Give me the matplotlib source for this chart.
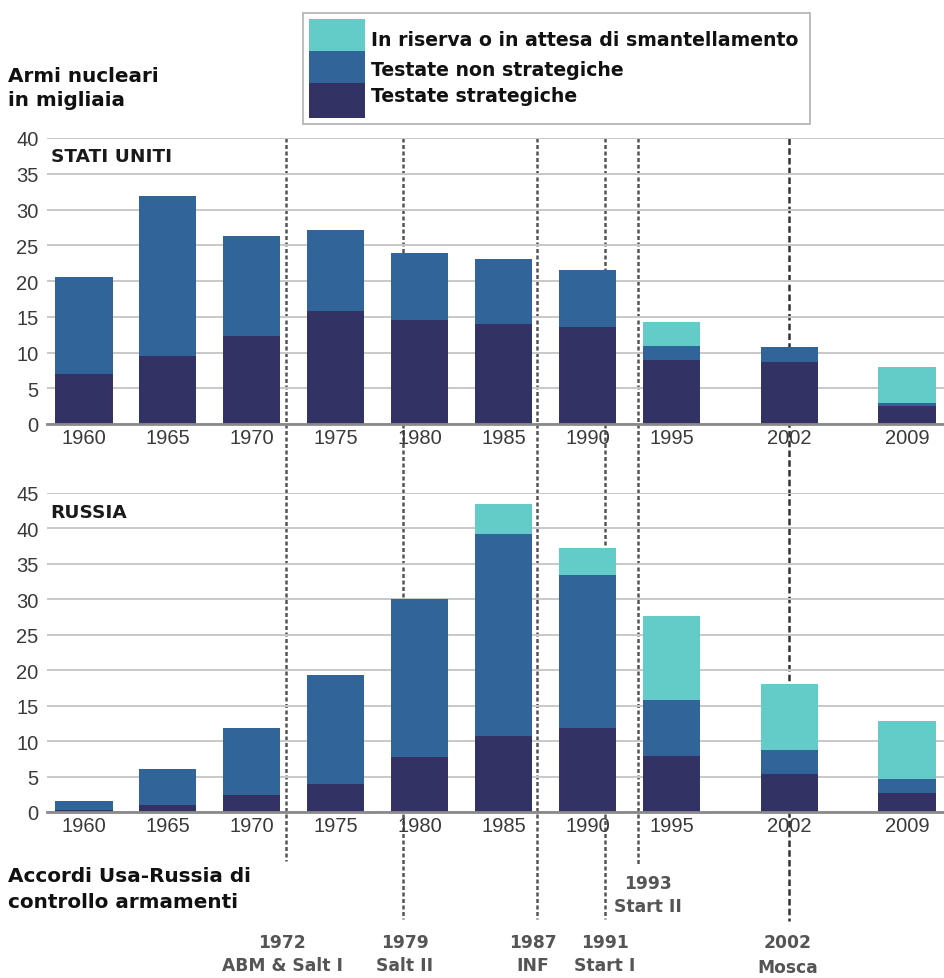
import matplotlib
matplotlib.use("Agg")
import matplotlib.pyplot as plt
from matplotlib.lines import Line2D
from matplotlib.patches import Rectangle
from matplotlib.transforms import blended_transform_factory

plt.rcParams['font.family'] = ['Liberation Sans', 'DejaVu Sans']
BOLD_FAMILY = ['DejaVu Sans']

# ---------------- data ----------------
years = [1960, 1965, 1970, 1975, 1980, 1985, 1990, 1995, 2002, 2009]
year_labels = ["1960", "1965", "1970", "1975", "1980", "1985", "1990", "1995", "2002", "2009"]

us_strategic = [7.0, 9.5, 12.3, 15.8, 14.6, 14.0, 13.5, 9.0, 8.7, 2.5]
us_nonstrategic = [13.5, 22.4, 14.0, 11.3, 9.3, 9.1, 8.0, 1.9, 2.0, 0.5]
us_reserve = [0.0, 0.0, 0.0, 0.0, 0.0, 0.0, 0.0, 3.4, 0.0, 5.0]

ru_strategic = [0.3, 1.0, 2.4, 3.9, 7.8, 10.7, 11.8, 7.9, 5.3, 2.7]
ru_nonstrategic = [1.3, 5.1, 9.4, 15.4, 22.3, 28.5, 21.7, 7.9, 3.4, 2.0]
ru_reserve = [0.0, 0.0, 0.0, 0.0, 0.0, 4.2, 3.7, 11.8, 9.3, 8.1]

us_yticks = [0, 5, 10, 15, 20, 25, 30, 35, 40]
ru_yticks = [0, 5, 10, 15, 20, 25, 30, 35, 40, 45]

treaty_years = [1972, 1979, 1987, 1991, 1993, 2002]
treaty_year_labels = ["1972", "1979", "1987", "1991", "1993", "2002"]
treaty_names = ["ABM & Salt I", "Salt II", "INF", "Start I", "Start II", "Mosca"]

legend_labels = ["In riserva o in attesa di smantellamento",
                 "Testate non strategiche",
                 "Testate strategiche"]

# ---------------- style ----------------
C_RES = "#63cbc8"
C_NON = "#31659a"
C_STR = "#333264"
GRID = "#c8c8c8"
W, H = 944, 979

fig = plt.figure(figsize=(W / 100, H / 100), dpi=100)
fig.patch.set_facecolor("white")


def fx(px):
    return px / W


def fy(py):
    return 1 - py / H


XMIN, XMAX = 1957.8, 2011.2
BAR_W = 3.4

ax_us = fig.add_axes([fx(47), fy(425), fx(944) - fx(47), fy(139) - fy(425)])
ax_ru = fig.add_axes([fx(47), fy(813), fx(944) - fx(47), fy(494) - fy(813)])


def draw_panel(ax, strat, nonstrat, reserve, yticks, title):
    ax.set_facecolor("none")
    bottom2 = [a + b for a, b in zip(strat, nonstrat)]
    ax.bar(years, strat, width=BAR_W, color=C_STR, zorder=3, linewidth=0)
    ax.bar(years, nonstrat, width=BAR_W, bottom=strat, color=C_NON, zorder=3, linewidth=0)
    ax.bar(years, reserve, width=BAR_W, bottom=bottom2, color=C_RES, zorder=3, linewidth=0)
    ax.set_xlim(XMIN, XMAX)
    ax.set_ylim(0, yticks[-1])
    ax.set_yticks(yticks)
    ax.set_yticklabels([str(t) for t in yticks])
    ax.set_xticks(years)
    ax.set_xticklabels(year_labels)
    ax.tick_params(axis="both", length=0, labelsize=14.5, labelcolor="#3a3a3a")
    ax.tick_params(axis="y", pad=6)
    ax.tick_params(axis="x", pad=3)
    ax.grid(axis="y", color=GRID, linewidth=1.4, zorder=1)
    ax.set_axisbelow(True)
    for s in ["left", "right", "top"]:
        ax.spines[s].set_visible(False)
    ax.spines["bottom"].set_color("#8a8a8a")
    ax.spines["bottom"].set_linewidth(2)
    ax.spines["bottom"].set_zorder(4)
    ax.text(0.004, 0.968, title, transform=ax.transAxes, ha="left", va="top",
            fontsize=13.3, fontweight="bold", color="#1a1a1a", family=BOLD_FAMILY)


draw_panel(ax_us, us_strategic, us_nonstrategic, us_reserve, us_yticks, "STATI UNITI")
draw_panel(ax_ru, ru_strategic, ru_nonstrategic, ru_reserve, ru_yticks, "RUSSIA")

# ---------------- treaty lines (behind the bars) ----------------
trans = blended_transform_factory(ax_us.transData, fig.transFigure)
line_bottoms = [862, 920, 920, 920, 865, 922]
for yr, yb in zip(treaty_years, line_bottoms):
    ls = (0, (2.6, 1.3)) if yr == 2002 else (0, (1.6, 1.0))
    col = "#333333" if yr == 2002 else "#555555"
    ln = Line2D([yr, yr], [fy(139), fy(yb)], transform=trans, color=col,
                linewidth=1.8, linestyle=ls, zorder=-1)
    fig.add_artist(ln)

# treaty labels
label_pos = {1972: (282, 943, 966), 1979: (405, 943, 966), 1987: (533, 943, 966),
             1991: (605, 943, 966), 1993: (648, 884, 907), 2002: (788, 943, 968)}
for yr, ylab, name in zip(treaty_years, treaty_year_labels, treaty_names):
    x, y1, y2 = label_pos[yr]
    fig.text(fx(x), fy(y1), ylab, ha="center", va="center", fontsize=12.3,
             fontweight="bold", color="#555555", family=BOLD_FAMILY)
    fig.text(fx(x), fy(y2), name, ha="center", va="center", fontsize=12.3,
             fontweight="bold", color="#555555", family=BOLD_FAMILY)

# ---------------- annotations ----------------
for txt, y in [("Armi nucleari", 76), ("in migliaia", 101),
               ("Accordi Usa-Russia di", 877), ("controllo armamenti", 903)]:
    fig.text(fx(8), fy(y), txt, ha="left", va="center", fontsize=14.4,
             fontweight="bold", color="#111111", family=BOLD_FAMILY)

# ---------------- legend ----------------
fig.add_artist(Rectangle((fx(303), fy(125)), fx(810) - fx(303), fy(14) - fy(125),
                         transform=fig.transFigure, facecolor="white",
                         edgecolor="#b0b0b0", linewidth=1.2, zorder=1))
sw_edges = [20, 52, 84, 119]
sw_colors = [C_RES, C_NON, C_STR]
text_y = [40, 70, 97]
for i, (lab, c) in enumerate(zip(legend_labels, sw_colors)):
    fig.add_artist(Rectangle((fx(309), fy(sw_edges[i + 1])), fx(365) - fx(309),
                             fy(sw_edges[i]) - fy(sw_edges[i + 1]),
                             transform=fig.transFigure, facecolor=c,
                             edgecolor="none", zorder=2))
    fig.text(fx(371), fy(text_y[i]), lab, ha="left", va="center", fontsize=13.6,
             fontweight="bold", color="#111111", zorder=3, family=BOLD_FAMILY)

fig.savefig("out.png", dpi=100)
